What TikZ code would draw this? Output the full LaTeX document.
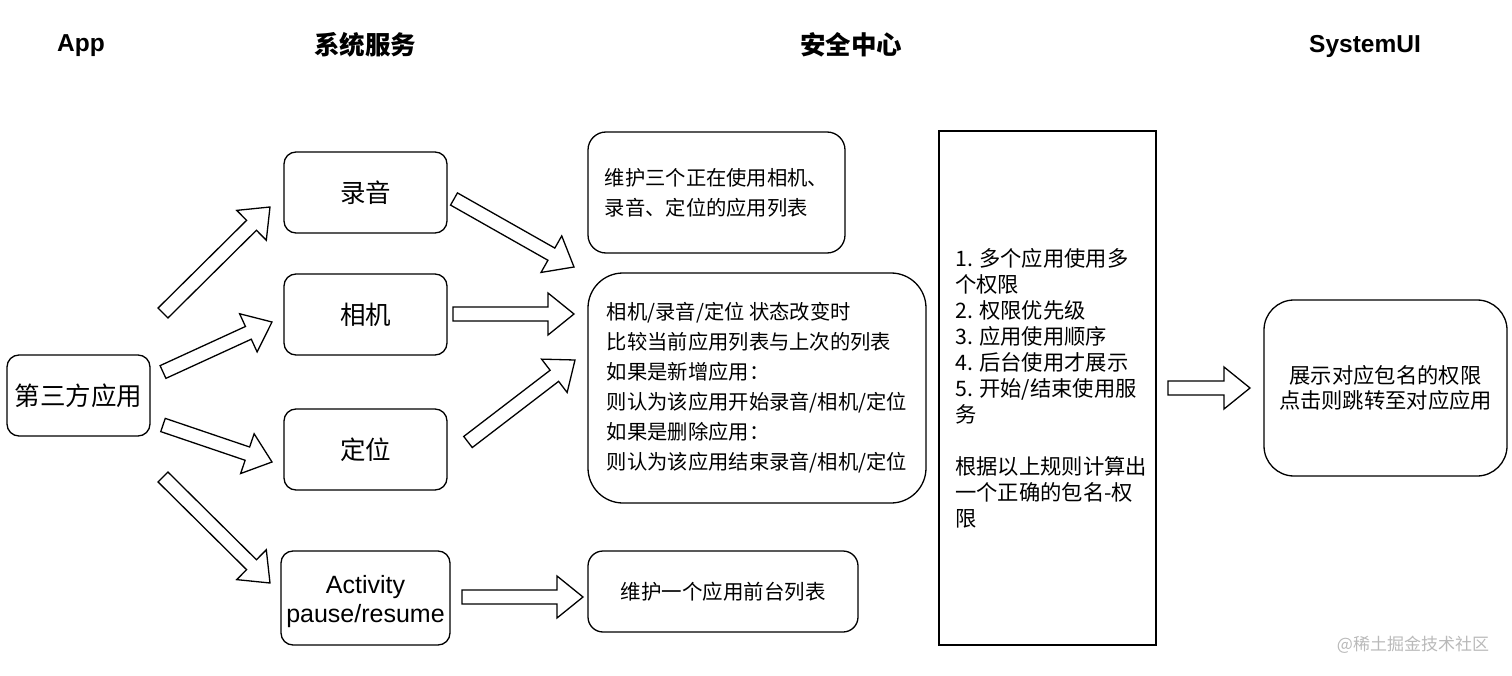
\documentclass[tikz,border=0pt]{standalone}
\usepackage{fontspec}
\setmainfont{Noto Sans CJK SC}
\newfontfamily\lat{Liberation Sans}
\usetikzlibrary{calc}
\tikzset{
  box/.style={draw, line width=1.3pt, rounded corners=12pt, fill=white, inner sep=0pt, align=center, font=\fontsize{25.5}{30}\selectfont},
  head/.style={font=\fontsize{25.5}{30}\selectfont\bfseries},
  body/.style={align=left, inner sep=0pt},
  arrowbox/.style={draw, line width=1.3pt, fill=white, line join=miter}
}
\newcommand\blockarrow[2]{%
  \coordinate (hb) at ($(#2)!26pt!(#1)$);
  \draw[arrowbox] ($(#1)!7pt!90:(#2)$) -- ($(hb)!7pt!90:(#2)$) -- ($(hb)!21pt!90:(#2)$) -- (#2)
    -- ($(hb)!21pt!-90:(#2)$) -- ($(hb)!7pt!-90:(#2)$) -- ($(#1)!7pt!-90:(#2)$) -- cycle;}
\begin{document}
\begin{tikzpicture}[x=1pt,y=-1pt]
\useasboundingbox (0,0) rectangle (1512,676);
% headings
\node[head, font=\lat\fontsize{24.5}{30}\selectfont\bfseries] (hApp) at (81,46) {App};
\node[head] (hSys) at (365,45) {系统服务};
\node[head] (hSec) at (851,45) {安全中心};
\node[head, font=\lat\fontsize{24.5}{30}\selectfont\bfseries] (hUI) at (1365,46) {SystemUI};
% left column
\node[box, minimum width=143pt, minimum height=81pt] (app) at (78.5,395.5) {第三方应用};
\node[box, minimum width=163pt, minimum height=81pt] (rec) at (365.5,192.5) {录音};
\node[box, minimum width=163pt, minimum height=81pt] (cam) at (365.5,314.5) {相机};
\node[box, minimum width=163pt, minimum height=81pt] (loc) at (365.5,449.5) {定位};
\node[box, minimum width=169pt, minimum height=94pt] (act) at (365.5,598) {};
\node[body, align=center, font=\lat\fontsize{25}{29}\selectfont] (actt) at (365.5,601.5) {Activity\\pause/resume};
% security center
\node[box, rounded corners=18pt, minimum width=257pt, minimum height=121pt] (list3) at (716.5,192.5) {};
\node[body, font=\fontsize{20.3}{30}\selectfont] (list3t) at (list3) {维护三个正在使用相机、\\录音、定位的应用列表};
\node[box, rounded corners=35pt, minimum width=338pt, minimum height=230pt] (cmp) at (757,388) {};
\node[body, font=\fontsize{20.3}{30}\selectfont] (cmpt) at (cmp) {相机/录音/定位 状态改变时\\比较当前应用列表与上次的列表\\如果是新增应用：\\则认为该应用开始录音/相机/定位\\如果是删除应用：\\则认为该应用结束录音/相机/定位};
\node[box, rounded corners=15pt, minimum width=270pt, minimum height=81pt, font=\fontsize{20.5}{30}\selectfont] (fg) at (723,591.5) {维护一个应用前台列表};
% rules box
\node[draw, line width=1.3pt, fill=white, minimum width=217pt, minimum height=514pt] (rules) at (1047.5,388) {};
\node[body, anchor=west, font=\fontsize{21.3}{26}\selectfont] (rulest) at (955,388) {1. 多个应用使用多\\个权限\\2. 权限优先级\\3. 应用使用顺序\\4. 后台使用才展示\\5. 开始/结束使用服\\务\\[26pt]根据以上规则计算出\\一个正确的包名-权\\限};
% SystemUI
\node[box, rounded corners=30pt, minimum width=243pt, minimum height=176pt, font=\fontsize{21.3}{25}\selectfont] (ui) at (1385.5,388) {展示对应包名的权限\\点击则跳转至对应应用};
% watermark
\node[font=\fontsize{17}{20}\selectfont, text=gray!55] (wm) at (1413,645) {@稀土掘金技术社区};
% arrow end points
\coordinate (a1s) at (163,313); \coordinate (a1e) at (270,207);
\coordinate (a2s) at (163,372); \coordinate (a2e) at (272,322);
\coordinate (a3s) at (163,425); \coordinate (a3e) at (272,462);
\coordinate (a4s) at (163,477); \coordinate (a4e) at (270,583);
\coordinate (a5s) at (454,199); \coordinate (a5e) at (574,267);
\coordinate (a6s) at (453,314); \coordinate (a6e) at (574,314);
\coordinate (a7s) at (468,442); \coordinate (a7e) at (575,360);
\coordinate (a8s) at (462,597); \coordinate (a8e) at (583,597);
\coordinate (a9s) at (1168,388); \coordinate (a9e) at (1250,388);
\blockarrow{a1s}{a1e}
\blockarrow{a2s}{a2e}
\blockarrow{a3s}{a3e}
\blockarrow{a4s}{a4e}
\blockarrow{a5s}{a5e}
\blockarrow{a6s}{a6e}
\blockarrow{a7s}{a7e}
\blockarrow{a8s}{a8e}
\blockarrow{a9s}{a9e}
\end{tikzpicture}
\end{document}
